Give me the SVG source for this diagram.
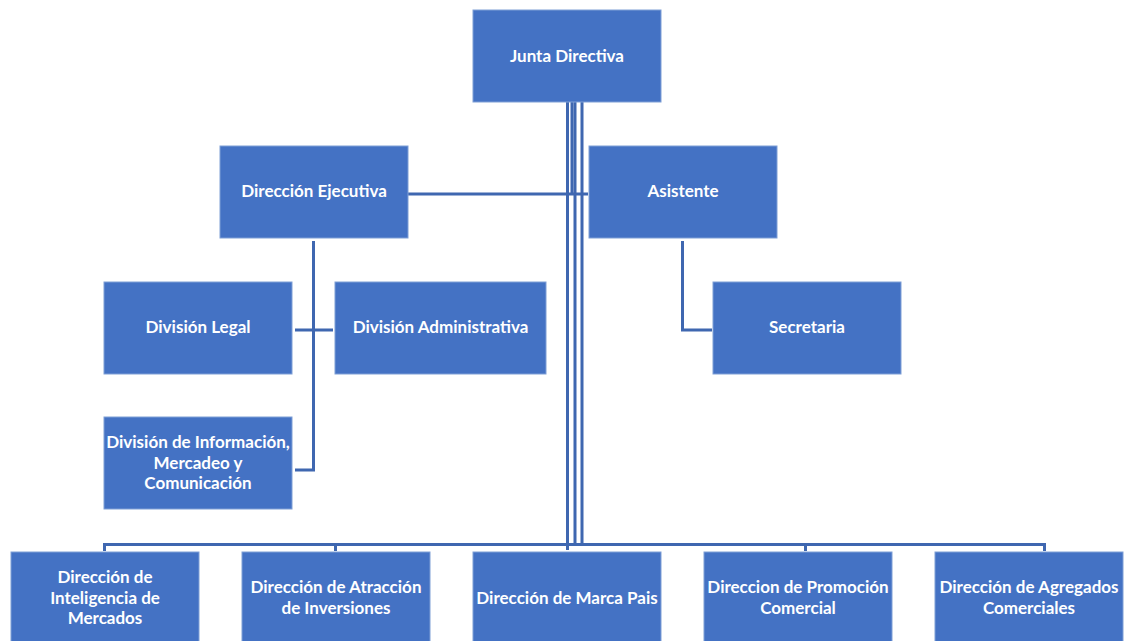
<svg xmlns="http://www.w3.org/2000/svg" width="1125" height="641" viewBox="0 0 1125 641">
<style>
.box{fill:#4472C4;stroke:#7F9FD6;stroke-width:1}
.t{font-family:Lato,"Liberation Sans",sans-serif;font-weight:bold;font-size:17px;fill:#FFFFFF;text-anchor:middle}
.c{fill:none;stroke:#3F67B0;stroke-width:3}
</style>
<rect width="1125" height="641" fill="#FFFFFF"/>
<g id="connectors">
<path class="c" d="M567.5 102V550"/>
<path class="c" d="M572 102V194"/>
<path class="c" d="M575 102V545"/>
<path class="c" d="M582 102V545"/>
<path class="c" d="M408 194H588"/>
<path class="c" d="M104.5 551V544.5H1044.5V551"/>
<path class="c" d="M335.5 544.5V551"/>
<path class="c" d="M805.5 544.5V551"/>
<path class="c" d="M313.5 241V470H295"/>
<path class="c" d="M295 330H333"/>
<path class="c" d="M682.5 241V330H712"/>
</g>
<g id="junta"><rect class="box" x="473" y="10" width="188" height="92"/><text class="t" x="567" y="62">Junta Directiva</text></g>
<g id="ejecutiva"><rect class="box" x="220" y="146" width="188" height="92"/><text class="t" x="314" y="197">Dirección Ejecutiva</text></g>
<g id="asistente"><rect class="box" x="589" y="146" width="188" height="92"/><text class="t" x="683" y="197">Asistente</text></g>
<g id="legal"><rect class="box" x="104" y="282" width="188" height="92"/><text class="t" x="198" y="333">División Legal</text></g>
<g id="administrativa"><rect class="box" x="335" y="282" width="211" height="92"/><text class="t" x="440.5" y="333">División Administrativa</text></g>
<g id="secretaria"><rect class="box" x="713" y="282" width="188" height="92"/><text class="t" x="807" y="333">Secretaria</text></g>
<g id="informacion"><rect class="box" x="104" y="417" width="188" height="92"/><text class="t" x="198" y="448">División de Información,</text><text class="t" x="198" y="469">Mercadeo y</text><text class="t" x="198" y="489">Comunicación</text></g>
<g id="inteligencia"><rect class="box" x="11" y="552" width="188" height="92"/><text class="t" x="105" y="583">Dirección de</text><text class="t" x="105" y="604">Inteligencia de</text><text class="t" x="105" y="624">Mercados</text></g>
<g id="atraccion"><rect class="box" x="242" y="552" width="188" height="92"/><text class="t" x="336" y="593">Dirección de Atracción</text><text class="t" x="336" y="614">de Inversiones</text></g>
<g id="marca"><rect class="box" x="473" y="552" width="188" height="92"/><text class="t" x="567" y="604">Dirección de Marca Pais</text></g>
<g id="promocion"><rect class="box" x="704" y="552" width="188" height="92"/><text class="t" x="798" y="593">Direccion de Promoción</text><text class="t" x="798" y="614">Comercial</text></g>
<g id="agregados"><rect class="box" x="935" y="552" width="188" height="92"/><text class="t" x="1029" y="593">Dirección de Agregados</text><text class="t" x="1029" y="614">Comerciales</text></g>
</svg>
